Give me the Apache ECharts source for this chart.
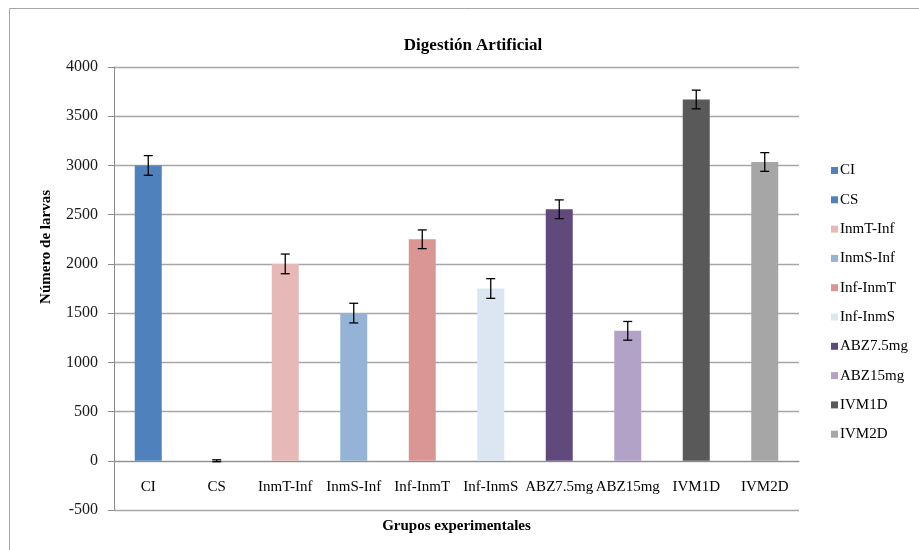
<!DOCTYPE html>
<html>
<head>
<meta charset="utf-8">
<script src="https://cdn.jsdelivr.net/npm/echarts@6/dist/echarts.min.js"></script>
<style>html,body{margin:0;padding:0;background:#fff}#c{width:919px;height:550px}</style>
</head>
<body>
<div id="c"></div>
<script>
var categories = ['CI','CS','InmT-Inf','InmS-Inf','Inf-InmT','Inf-InmS','ABZ7.5mg','ABZ15mg','IVM1D','IVM2D'];
var values = [3000, 0, 2000, 1500, 2250, 1750, 2555, 1320, 3670, 3035];
var errors = [100, 10, 100, 100, 95, 100, 95, 95, 95, 95];
var colors = ['#4F81BD','#4F81BD','#E6B9B8','#95B3D7','#D99694','#DCE6F2','#604A7B','#B3A2C7','#595959','#A6A6A6'];
var yTicks = {min: -500, max: 4000, interval: 500};

var FONT = '"Liberation Serif", "Times New Roman", serif';
var GRID_TOP = 67, GRID_BOTTOM = 40, H = 550;
var plotH = H - GRID_TOP - GRID_BOTTOM;
var zeroOffset = plotH * (0 - yTicks.min) / (yTicks.max - yTicks.min);

var chart = echarts.init(document.getElementById('c'), null, {renderer: 'canvas'});

var series = categories.map(function (name, i) {
  var d = categories.map(function (_, j) { return j === i ? values[i] : '-'; });
  return {
    name: name, type: 'bar', data: d, barWidth: 27, barGap: '-100%',
    itemStyle: {color: colors[i]}, silent: true
  };
});

var errData = categories.map(function (c, i) { return [i, values[i], errors[i]]; });
series.push({
  type: 'custom', name: 'err', data: errData, silent: true, z: 10,
  encode: {x: 0, y: 1},
  renderItem: function (params, api) {
    var x = api.value(0), v = api.value(1), e = api.value(2);
    var top = api.coord([x, v + e]);
    var bot = api.coord([x, v - e]);
    var hw = 4.5;
    var st = {stroke: '#000', lineWidth: 1.3};
    return {type: 'group', children: [
      {type: 'line', shape: {x1: top[0], y1: top[1], x2: bot[0], y2: bot[1]}, style: st},
      {type: 'line', shape: {x1: top[0]-hw, y1: top[1], x2: top[0]+hw, y2: top[1]}, style: st},
      {type: 'line', shape: {x1: bot[0]-hw, y1: bot[1], x2: bot[0]+hw, y2: bot[1]}, style: st}
    ]};
  }
});

chart.setOption({
  animation: false,
  backgroundColor: '#fff',
  title: {
    text: 'Digestión Artificial', left: 468, top: 32, textAlign: 'center',
    textStyle: {fontFamily: FONT, fontSize: 17, fontWeight: 'bold', color: '#000'}
  },
  graphic: [{
    type: 'rect', shape: {x: 9.5, y: 8.5, width: 1000, height: 1000},
    style: {fill: null, stroke: '#A6A6A6', lineWidth: 1}, silent: true
  }, {
    type: 'text', left: 39, top: 190, rotation: Math.PI / 2,
    style: {text: 'Número de larvas', font: 'bold 15px ' + FONT, fill: '#000'}
  }],
  legend: {
    data: categories, orient: 'vertical', left: 826, top: 158,
    icon: 'rect', itemWidth: 7, itemHeight: 7, itemGap: 14.3,
    textStyle: {fontFamily: FONT, fontSize: 15, color: '#000', lineHeight: 15, padding: [0,0,0,-3]},
    selectedMode: false
  },
  grid: {left: 114, right: 120, top: GRID_TOP, bottom: GRID_BOTTOM, containLabel: false, outerBoundsMode: 'none'},
  xAxis: {
    type: 'category', data: categories, position: 'bottom', offset: -zeroOffset,
    name: 'Grupos experimentales', nameLocation: 'middle', nameGap: 58,
    nameTextStyle: {fontFamily: FONT, fontSize: 15, fontWeight: 'bold', color: '#000'},
    axisLine: {onZero: false, lineStyle: {color: '#8C8C8C', width: 1}},
    axisTick: {show: false},
    axisLabel: {fontFamily: FONT, fontSize: 15, color: '#000', margin: 19, interval: 0}
  },
  yAxis: {
    type: 'value', min: yTicks.min, max: yTicks.max, interval: yTicks.interval,
    axisLine: {show: true, lineStyle: {color: '#8C8C8C', width: 1}},
    axisTick: {show: true, length: 6, lineStyle: {color: '#8C8C8C'}},
    splitLine: {lineStyle: {color: '#A6A6A6', width: 1.3}},
    axisLabel: {fontFamily: FONT, fontSize: 16, color: '#1a1a1a', margin: 16,
      formatter: function (v) { return String(v); }}
  },
  series: series
});
</script>
</body>
</html>
